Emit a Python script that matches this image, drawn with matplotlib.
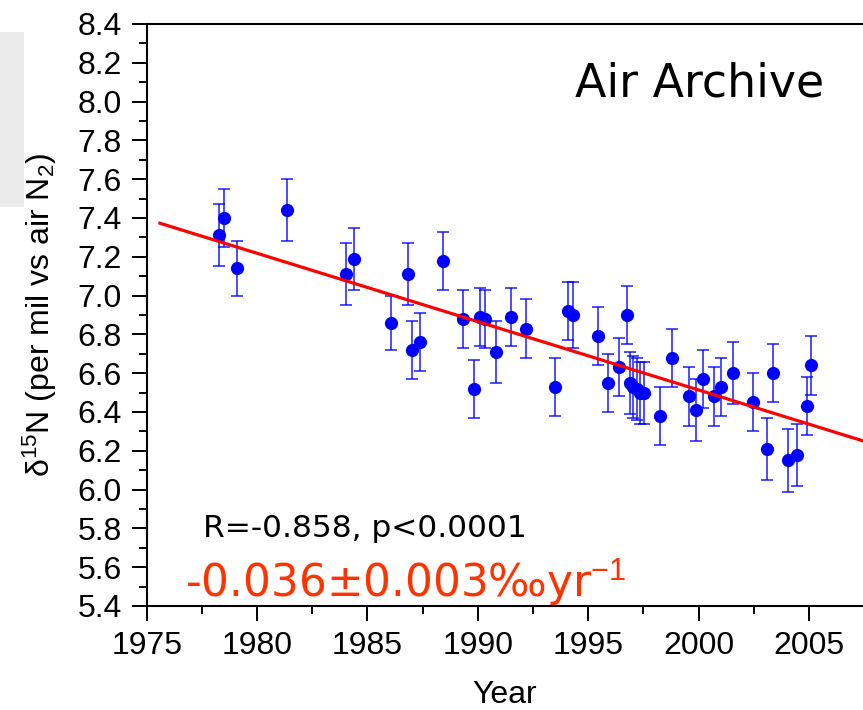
import numpy as np
import matplotlib
matplotlib.use("Agg")
from matplotlib import pyplot as plt
from matplotlib.patches import Rectangle
from matplotlib.ticker import MultipleLocator

# air archive d15N values
year = [1978.29, 1978.50, 1979.08, 1981.35, 1984.03, 1984.38, 1986.08, 1986.83,
        1987.00, 1987.39, 1988.43, 1989.34, 1989.82, 1990.10, 1990.32, 1990.83,
        1991.51, 1992.19, 1993.48, 1994.09, 1994.32, 1995.43, 1995.91, 1996.39,
        1996.74, 1996.89, 1997.01, 1997.19, 1997.37, 1997.52, 1998.26, 1998.78,
        1999.57, 1999.88, 2000.18, 2000.72, 2001.01, 2001.54, 2002.46, 2003.11,
        2003.37, 2004.03, 2004.44, 2004.92, 2005.09]
d15n = [7.31, 7.40, 7.14, 7.44, 7.11, 7.19, 6.86, 7.11,
        6.72, 6.76, 7.18, 6.88, 6.52, 6.89, 6.88, 6.71,
        6.89, 6.83, 6.53, 6.92, 6.90, 6.79, 6.55, 6.63,
        6.90, 6.55, 6.53, 6.52, 6.50, 6.50, 6.38, 6.68,
        6.48, 6.41, 6.57, 6.48, 6.53, 6.60, 6.45, 6.21,
        6.60, 6.15, 6.18, 6.43, 6.64]
err = [0.16, 0.15, 0.14, 0.16, 0.16, 0.16, 0.14, 0.16,
       0.15, 0.15, 0.15, 0.15, 0.15, 0.15, 0.15, 0.16,
       0.15, 0.15, 0.15, 0.15, 0.17, 0.15, 0.15, 0.15,
       0.15, 0.16, 0.16, 0.16, 0.16, 0.16, 0.15, 0.15,
       0.15, 0.16, 0.15, 0.15, 0.15, 0.16, 0.15, 0.16,
       0.15, 0.16, 0.16, 0.15, 0.15]

# regression line end points
fit_x = [1975.60, 2007.45]
fit_y = [7.373, 6.251]

plt.rcParams['font.family'] = ['Liberation Sans', 'DejaVu Sans']
plt.rcParams['mathtext.fontset'] = 'custom'
plt.rcParams['mathtext.rm'] = 'Liberation Sans'
plt.rcParams['mathtext.it'] = 'Liberation Sans'

fig = plt.figure(figsize=(8.63, 7.10), dpi=100)
fig.patches.append(Rectangle((0, 0.7085), 0.0278, 0.2465, transform=fig.transFigure,
                             facecolor='#ebebeb', edgecolor='none'))
ax = fig.add_axes([0.1700, 0.1465, 0.8300, 0.8197])

ax.errorbar(year, d15n, yerr=err, fmt='none', ecolor=(0, 0, 1, 0.7),
            elinewidth=1.4, capsize=4.3, capthick=1.4, zorder=2)
ax.plot(year, d15n, 'o', color='#0000ff', markersize=9.5, markeredgewidth=0, zorder=3)
ax.plot(fit_x, fit_y, color='#ff0000', lw=2.3, zorder=4)

ax.set_xlim(1975, 2007.45)
ax.set_ylim(5.4, 8.4)
ax.xaxis.set_major_locator(MultipleLocator(5))
ax.xaxis.set_minor_locator(MultipleLocator(2.5))
ax.yaxis.set_major_locator(MultipleLocator(0.2))
ax.yaxis.set_minor_locator(MultipleLocator(0.1))
ax.set_xticks([1975, 1980, 1985, 1990, 1995, 2000, 2005])
ax.yaxis.set_major_formatter(matplotlib.ticker.FormatStrFormatter('%.1f'))
ax.tick_params(which='major', direction='out', length=11, width=1.4, labelsize=23, pad=7)
ax.tick_params(which='minor', direction='out', length=6, width=1.4)
ax.spines['right'].set_visible(False)
for s in ['left', 'bottom', 'top']:
    ax.spines[s].set_linewidth(1.5)

ax.set_xlabel('Year', fontsize=23, labelpad=14)
ax.set_ylabel('δ$^{15}$N (per mil vs air N$_2$)', fontsize=23, labelpad=13)

ax.text(0.598, 0.8746, 'Air Archive', transform=ax.transAxes, fontsize=33,
        family='DejaVu Sans', va='baseline')
ax.text(0.0787, 0.119, 'R=-0.858, p<0.0001', transform=ax.transAxes, fontsize=22.5,
        family='DejaVu Sans', va='baseline')
ax.text(0.0535, 0.0137, '-0.036±0.003‰yr$^{-1}$', transform=ax.transAxes, fontsize=31.5,
        family='DejaVu Sans', color='#ff3300', va='baseline')

fig.savefig('out.png', dpi=100)
